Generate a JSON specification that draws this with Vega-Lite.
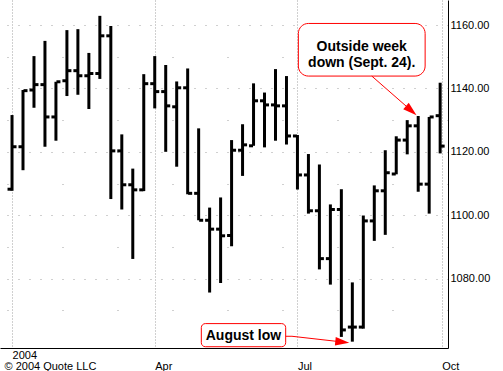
{
  "$schema": "https://vega.github.io/schema/vega-lite/v6.json",
  "width": 448,
  "height": 348,
  "autosize": {"type": "none"},
  "padding": {"left": 0, "top": 0, "right": 55, "bottom": 23},
  "background": "white",
  "config": {"view": {"stroke": null}, "font": "Liberation Sans"},
  "resolve": {"axis": {"x": "independent", "y": "independent"}},
  "datasets": {
    "weeks": [
      {"date": "2004-01-01", "open": 1108.2, "high": 1131.6, "low": 1107.7, "close": 1121.6},
      {"date": "2004-01-08", "open": 1121.6, "high": 1139.5, "low": 1114.2, "close": 1139.3},
      {"date": "2004-01-15", "open": 1139.5, "high": 1150.2, "low": 1133.9, "close": 1141.2},
      {"date": "2004-01-22", "open": 1141.2, "high": 1155.0, "low": 1121.6, "close": 1131.0},
      {"date": "2004-01-29", "open": 1131.0, "high": 1142.1, "low": 1123.5, "close": 1142.1},
      {"date": "2004-02-05", "open": 1142.4, "high": 1158.4, "low": 1137.6, "close": 1145.6},
      {"date": "2004-02-12", "open": 1145.6, "high": 1158.7, "low": 1138.0, "close": 1144.0},
      {"date": "2004-02-19", "open": 1144.0, "high": 1151.2, "low": 1133.5, "close": 1144.7},
      {"date": "2004-02-26", "open": 1144.7, "high": 1162.9, "low": 1143.0, "close": 1156.6},
      {"date": "2004-03-04", "open": 1156.6, "high": 1159.7, "low": 1105.1, "close": 1120.3},
      {"date": "2004-03-11", "open": 1120.3, "high": 1125.5, "low": 1101.8, "close": 1109.6},
      {"date": "2004-03-18", "open": 1109.6, "high": 1114.7, "low": 1086.2, "close": 1108.0},
      {"date": "2004-03-25", "open": 1108.0, "high": 1144.5, "low": 1107.6, "close": 1141.5},
      {"date": "2004-04-01", "open": 1141.5, "high": 1150.2, "low": 1133.7, "close": 1139.0},
      {"date": "2004-04-08", "open": 1139.0, "high": 1147.4, "low": 1120.0, "close": 1134.5},
      {"date": "2004-04-15", "open": 1134.2, "high": 1142.2, "low": 1115.3, "close": 1140.2},
      {"date": "2004-04-22", "open": 1140.2, "high": 1146.3, "low": 1106.6, "close": 1106.9},
      {"date": "2004-04-29", "open": 1106.9, "high": 1127.4, "low": 1098.4, "close": 1098.4},
      {"date": "2004-05-06", "open": 1098.4, "high": 1102.4, "low": 1075.6, "close": 1095.6},
      {"date": "2004-05-13", "open": 1095.6, "high": 1105.6, "low": 1078.6, "close": 1093.5},
      {"date": "2004-05-20", "open": 1093.6, "high": 1123.7, "low": 1090.2, "close": 1120.5},
      {"date": "2004-05-27", "open": 1120.5, "high": 1128.7, "low": 1112.4, "close": 1122.2},
      {"date": "2004-06-03", "open": 1121.9, "high": 1141.6, "low": 1121.9, "close": 1136.1},
      {"date": "2004-06-10", "open": 1136.1, "high": 1138.7, "low": 1121.4, "close": 1134.8},
      {"date": "2004-06-17", "open": 1134.8, "high": 1146.1, "low": 1123.5, "close": 1134.5},
      {"date": "2004-06-24", "open": 1134.5, "high": 1143.9, "low": 1122.3, "close": 1125.0},
      {"date": "2004-07-01", "open": 1125.0, "high": 1125.3, "low": 1108.1, "close": 1112.7},
      {"date": "2004-07-08", "open": 1112.7, "high": 1119.3, "low": 1100.5, "close": 1101.4},
      {"date": "2004-07-15", "open": 1101.4, "high": 1116.0, "low": 1082.9, "close": 1086.3},
      {"date": "2004-07-22", "open": 1086.3, "high": 1103.4, "low": 1078.1, "close": 1101.8},
      {"date": "2004-07-29", "open": 1101.8, "high": 1108.2, "low": 1061.6, "close": 1063.8},
      {"date": "2004-08-05", "open": 1064.7, "high": 1078.8, "low": 1060.1, "close": 1064.7},
      {"date": "2004-08-12", "open": 1064.7, "high": 1099.9, "low": 1064.2, "close": 1098.2},
      {"date": "2004-08-19", "open": 1098.2, "high": 1109.4, "low": 1091.9, "close": 1107.7},
      {"date": "2004-08-26", "open": 1107.7, "high": 1120.5, "low": 1093.8, "close": 1113.4},
      {"date": "2004-09-02", "open": 1113.0, "high": 1124.9, "low": 1112.9, "close": 1123.7},
      {"date": "2004-09-09", "open": 1123.7, "high": 1130.0, "low": 1119.2, "close": 1128.2},
      {"date": "2004-09-16", "open": 1128.2, "high": 1131.3, "low": 1107.4, "close": 1109.8},
      {"date": "2004-09-23", "open": 1109.8, "high": 1131.0, "low": 1100.5, "close": 1131.0},
      {"date": "2004-09-30", "open": 1131.4, "high": 1141.8, "low": 1119.5, "close": 1121.8}
    ],
    "boxes": [
      {"note": "outside", "start": "2004-07-01T14:00:00Z", "end": "2004-09-20T10:00:00Z", "top": 1160.5, "bottom": 1143.9},
      {"note": "august", "start": "2004-04-30T17:00:00Z", "end": "2004-06-23T12:00:00Z", "top": 1065.8, "bottom": 1058.5}
    ],
    "labels": [
      {"note": "outside", "date": "2004-08-11T00:00:00Z", "price": 1153.0, "text": "Outside week\ndown (Sept. 24)."},
      {"note": "august", "date": "2004-05-27T14:00:00Z", "price": 1061.8, "text": "August low"}
    ],
    "arrows": [
      {"note": "outside", "seq": 0, "date": "2004-08-17T10:00:00Z", "price": 1143.9},
      {"note": "outside", "seq": 1, "date": "2004-09-11T14:00:00Z", "price": 1133.0},
      {"note": "august", "seq": 0, "date": "2004-06-23T12:00:00Z", "price": 1061.8},
      {"note": "august", "seq": 1, "date": "2004-06-27T12:00:00Z", "price": 1061.8},
      {"note": "august", "seq": 2, "date": "2004-07-29T14:00:00Z", "price": 1060.0}
    ],
    "heads": [
      {"note": "outside", "date": "2004-09-11T14:00:00Z", "price": 1133.0},
      {"note": "august", "date": "2004-07-29T14:00:00Z", "price": 1060.0}
    ]
  },
  "layer": [
    {
      "data": {"name": "weeks"},
      "mark": {"type": "rule", "strokeWidth": 3, "color": "black"},
      "encoding": {
        "x": {
          "field": "date", "type": "temporal",
          "scale": {"type": "utc", "domain": [{"year": 2003, "month": 12, "date": 24, "hours": 8, "utc": true}, {"year": 2004, "month": 10, "date": 5, "utc": true}]},
          "axis": {
            "orient": "bottom",
            "values": [{"year": 2004, "month": 1, "date": 1, "utc": true}, {"year": 2004, "month": 4, "date": 1, "utc": true}, {"year": 2004, "month": 7, "date": 1, "utc": true}, {"year": 2004, "month": 10, "date": 1, "utc": true}],
            "labelExpr": "utcmonth(datum.value) === 0 ? [utcFormat(datum.value, '%Y'), ' '] : [' ', utcFormat(datum.value, '%b')]",
            "grid": true, "gridColor": "#a0a0a0", "gridDash": [1, 2], "gridWidth": 1,
            "ticks": false, "tickSize": 0,
            "domain": true, "domainColor": "black", "domainWidth": 1,
            "labelAlign": "left", "labelBaseline": "middle", "labelPadding": 7.5, "labelLineHeight": 11,
            "labelFontSize": 11, "labelColor": "black", "labelFont": "Liberation Sans",
            "labelFlush": false, "labelOverlap": false,
            "title": "© 2004 Quote LLC",
            "titleX": 4, "titleY": 18.5, "titleAlign": "left", "titleBaseline": "middle",
            "titleFontWeight": "normal", "titleFontSize": 11, "titleFont": "Liberation Sans", "titleColor": "black"
          }
        },
        "y": {
          "field": "low", "type": "quantitative",
          "scale": {"domain": [1058.1, 1167.9], "nice": false, "zero": false},
          "axis": {
            "orient": "right",
            "values": [1070, 1080, 1090, 1100, 1110, 1120, 1130, 1140, 1150, 1160],
            "labelExpr": "datum.value % 20 === 0 ? format(datum.value, '.2f') : ''",
            "grid": true, "gridColor": "#a0a0a0",
            "gridDash": {"condition": {"test": "datum.value % 20 === 0", "value": [1, 10]}, "value": [1, 54]},
            "ticks": false, "tickSize": 0,
            "domain": true, "domainColor": "black", "domainWidth": 1,
            "labelPadding": 2, "labelFontSize": 11, "labelColor": "black", "labelFont": "Liberation Sans",
            "labelBaseline": "middle", "labelAlign": "left", "labelFlush": false, "labelOverlap": false,
            "title": null
          }
        },
        "y2": {"field": "high"}
      }
    },
    {
      "data": {"name": "weeks"},
      "mark": {"type": "tick", "orient": "horizontal", "size": 4, "thickness": 3, "xOffset": -2.5, "color": "black", "opacity": 1},
      "encoding": {
        "x": {"field": "date", "type": "temporal", "axis": null},
        "y": {"field": "open", "type": "quantitative", "axis": null}
      }
    },
    {
      "data": {"name": "weeks"},
      "mark": {"type": "tick", "orient": "horizontal", "size": 4, "thickness": 3, "xOffset": 2.5, "color": "black", "opacity": 1},
      "encoding": {
        "x": {"field": "date", "type": "temporal", "axis": null},
        "y": {"field": "close", "type": "quantitative", "axis": null}
      }
    },
    {
      "data": {"name": "boxes"},
      "transform": [{"filter": "datum.note === 'outside'"}],
      "mark": {"type": "rect", "fill": "white", "stroke": "#ff0000", "strokeWidth": 1, "cornerRadius": 10},
      "encoding": {
        "x": {"field": "start", "type": "temporal", "axis": null},
        "x2": {"field": "end"},
        "y": {"field": "top", "type": "quantitative", "axis": null},
        "y2": {"field": "bottom"}
      }
    },
    {
      "data": {"name": "boxes"},
      "transform": [{"filter": "datum.note === 'august'"}],
      "mark": {"type": "rect", "fill": "white", "stroke": "#ff0000", "strokeWidth": 1, "cornerRadius": 4},
      "encoding": {
        "x": {"field": "start", "type": "temporal", "axis": null},
        "x2": {"field": "end"},
        "y": {"field": "top", "type": "quantitative", "axis": null},
        "y2": {"field": "bottom"}
      }
    },
    {
      "data": {"name": "arrows"},
      "mark": {"type": "line", "color": "#ff0000", "strokeWidth": 1},
      "encoding": {
        "x": {"field": "date", "type": "temporal", "axis": null},
        "y": {"field": "price", "type": "quantitative", "axis": null},
        "detail": {"field": "note"},
        "order": {"field": "seq", "type": "quantitative"}
      }
    },
    {
      "data": {"name": "heads"},
      "transform": [{"filter": "datum.note === 'outside'"}],
      "mark": {"type": "point", "shape": "M0,-1L-0.6,1L0.6,1Z", "size": 196, "angle": 131, "filled": true, "color": "#ff0000", "opacity": 1, "strokeWidth": 0},
      "encoding": {
        "x": {"field": "date", "type": "temporal", "axis": null},
        "y": {"field": "price", "type": "quantitative", "axis": null}
      }
    },
    {
      "data": {"name": "heads"},
      "transform": [{"filter": "datum.note === 'august'"}],
      "mark": {"type": "point", "shape": "M0,-1L-0.6,1L0.6,1Z", "size": 196, "angle": 96, "filled": true, "color": "#ff0000", "opacity": 1, "strokeWidth": 0},
      "encoding": {
        "x": {"field": "date", "type": "temporal", "axis": null},
        "y": {"field": "price", "type": "quantitative", "axis": null}
      }
    },
    {
      "data": {"name": "labels"},
      "mark": {"type": "text", "font": "Liberation Sans", "fontSize": 14, "fontWeight": "bold", "color": "black", "align": "center", "baseline": "middle", "lineBreak": "\n", "lineHeight": 16},
      "encoding": {
        "x": {"field": "date", "type": "temporal", "axis": null},
        "y": {"field": "price", "type": "quantitative", "axis": null},
        "text": {"field": "text"}
      }
    }
  ]
}
